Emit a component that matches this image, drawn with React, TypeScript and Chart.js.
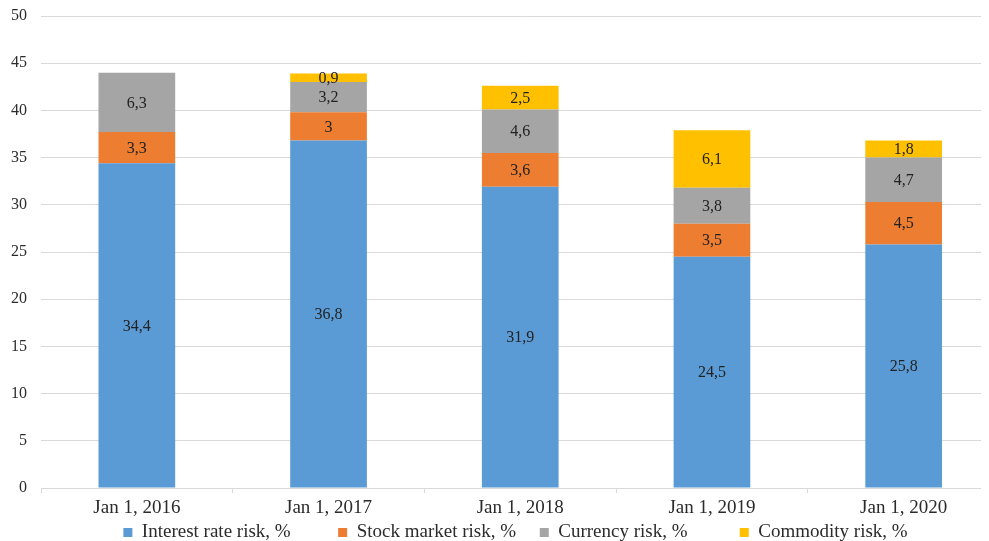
import React, { useEffect, useRef } from "react";
import { Chart, registerables } from "chart.js";

Chart.register(...registerables);

const categories = ["Jan 1, 2016", "Jan 1, 2017", "Jan 1, 2018", "Jan 1, 2019", "Jan 1, 2020"];
const interestRate = [34.4, 36.8, 31.9, 24.5, 25.8];
const stockMarket = [3.3, 3, 3.6, 3.5, 4.5];
const currency = [6.3, 3.2, 4.6, 3.8, 4.7];
const commodity: (number | null)[] = [null, 0.9, 2.5, 6.1, 1.8];
const seriesNames = ["Interest rate risk, %", "Stock market risk, %", "Currency risk, %", "Commodity risk, %"];
const seriesColors = ["#5B9BD5", "#ED7D31", "#A5A5A5", "#FFC000"];
const legendGaps = ["\u2003\u2003\u2002", "\u2003 ", "\u2003\u2003\u2002 ", "  "];

const FONT = "'Liberation Serif', 'Times New Roman', serif";
const TEXT = "#2b2b2b";

const labelPlugin = {
  id: "barLabels",
  afterDatasetsDraw(chart: any) {
    const ctx = chart.ctx;
    ctx.save();
    ctx.font = `16px ${FONT}`;
    ctx.fillStyle = "#222222";
    ctx.textAlign = "center";
    ctx.textBaseline = "middle";
    chart.data.datasets.forEach((ds: any, di: number) => {
      const meta = chart.getDatasetMeta(di);
      meta.data.forEach((el: any, i: number) => {
        const v = ds.data[i];
        if (v === null || v === undefined) return;
        const y = (el.y + el.base) / 2;
        ctx.fillText(String(v).replace(".", ","), el.x, y + 1);
      });
    });
    ctx.restore();
  },
};

export default function App() {
  const ref = useRef<HTMLCanvasElement>(null);
  useEffect(() => {
    document.body.style.overflow = "hidden";
    document.documentElement.style.overflow = "hidden";
    const data = [interestRate, stockMarket, currency, commodity];
    const chart = new Chart(ref.current!, {
      type: "bar",
      data: {
        labels: categories,
        datasets: data.map((d, i) => ({
          label: seriesNames[i],
          data: d,
          backgroundColor: seriesColors[i],
          borderWidth: 0,
          barPercentage: 0.4,
          categoryPercentage: 1,
        })),
      },
      options: {
        responsive: false,
        animation: false,
        layout: { padding: { left: 3, right: 8.5, top: 0, bottom: 0 } },
        plugins: {
          tooltip: { enabled: false },
          legend: {
            position: "bottom",
            fullSize: false,
            labels: {
              boxWidth: 9,
              boxHeight: 9,
              padding: 0,
              color: TEXT,
              font: { family: FONT, size: 19 },
              generateLabels(c: any) {
                const items = Chart.defaults.plugins.legend.labels.generateLabels(c);
                items.forEach((it: any, i: number) => {
                  it.lineWidth = 0;
                  it.text = it.text + (legendGaps[i] || "");
                });
                return items;
              },
            },
          },
        },
        scales: {
          x: {
            stacked: true,
            afterFit(scale: any) {
              scale.paddingLeft = 0;
              scale.paddingRight = 0;
            },
            grid: {
              display: true,
              drawOnChartArea: false,
              drawTicks: true,
              tickLength: 5,
              color: "#d9d9d9",
              offset: true,
            },
            border: { color: "#d9d9d9" },
            ticks: { color: TEXT, padding: 5.5, font: { family: FONT, size: 19, lineHeight: 1 } },
          },
          y: {
            stacked: true,
            min: 0,
            max: 50,
            afterFit(scale: any) {
              scale.width = 30;
              scale.paddingTop = 8;
              scale.paddingBottom = 0;
            },
            ticks: { stepSize: 5, color: TEXT, padding: 14, font: { family: FONT, size: 16 } },
            grid: { color: "#d9d9d9", drawTicks: false },
            border: { display: false },
          },
        },
      },
      plugins: [labelPlugin],
    });
    return () => chart.destroy();
  }, []);
  return (
    <div>
      <canvas ref={ref} width={1000} height={544} style={{ display: "block" }} />
    </div>
  );
}
